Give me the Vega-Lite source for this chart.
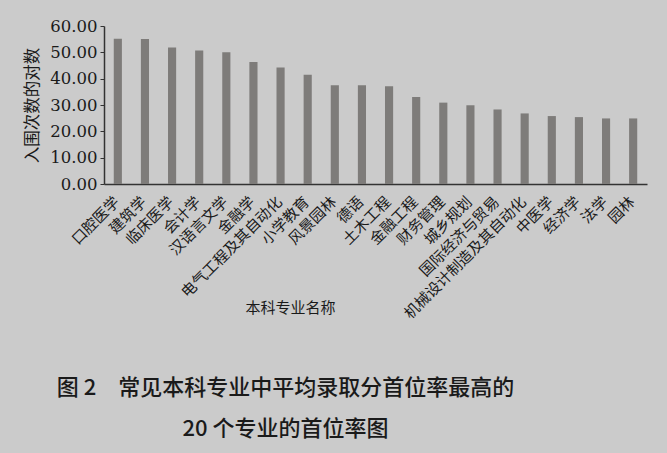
{
  "$schema": "https://vega.github.io/schema/vega-lite/v6.json",
  "width": 543,
  "height": 158,
  "autosize": "none",
  "padding": {"left": 104, "top": 26, "right": 20, "bottom": 269},
  "background": "#cbcbcb",
  "title": {
    "text": ["图 2　常见本科专业中平均录取分首位率最高的", "20 个专业的首位率图"],
    "orient": "bottom",
    "anchor": "middle",
    "dx": -90,
    "offset": 57,
    "font": "Noto Sans CJK SC",
    "fontSize": 22,
    "fontWeight": 500,
    "lineHeight": 41,
    "color": "#1a1a1a"
  },
  "data": {
    "values": [
      {"major": "口腔医学", "value": 55.2},
      {"major": "建筑学", "value": 55.1},
      {"major": "临床医学", "value": 51.8},
      {"major": "会计学", "value": 50.7},
      {"major": "汉语言文学", "value": 50.0},
      {"major": "金融学", "value": 46.3},
      {"major": "电气工程及其自动化", "value": 44.2},
      {"major": "小学教育", "value": 41.5},
      {"major": "风景园林", "value": 37.5},
      {"major": "德语", "value": 37.5},
      {"major": "土木工程", "value": 37.1},
      {"major": "金融工程", "value": 33.0},
      {"major": "财务管理", "value": 30.9},
      {"major": "城乡规划", "value": 29.9},
      {"major": "国际经济与贸易", "value": 28.3},
      {"major": "机械设计制造及其自动化", "value": 26.8},
      {"major": "中医学", "value": 25.8},
      {"major": "经济学", "value": 25.4},
      {"major": "法学", "value": 24.9},
      {"major": "园林", "value": 24.9}
    ]
  },
  "mark": {"type": "bar", "color": "#7e7c7a"},
  "encoding": {
    "x": {
      "field": "major",
      "type": "nominal",
      "sort": null,
      "scale": {"paddingInner": 0.7, "paddingOuter": 0.36},
      "axis": {
        "title": "本科专业名称",
        "titleFont": "Noto Sans CJK SC",
        "titleFontSize": 15,
        "titleFontWeight": "normal",
        "titleColor": "#1a1a1a",
        "titleX": 186,
        "titleY": 116,
        "titleAnchor": "middle",
        "titleAlign": "center",
        "labelAngle": -45,
        "labelFont": "Noto Sans CJK SC",
        "labelFontSize": 15,
        "labelColor": "#1a1a1a",
        "labelPadding": 10,
        "labelOffset": -6,
        "ticks": false,
        "domainColor": "#333333",
        "domainWidth": 1.5
      }
    },
    "y": {
      "field": "value",
      "type": "quantitative",
      "scale": {"domain": [0, 60]},
      "axis": {
        "title": "入围次数的对数",
        "titleFont": "Noto Sans CJK SC",
        "titleFontSize": 16.5,
        "titleFontWeight": "normal",
        "titleColor": "#1a1a1a",
        "titlePadding": 9,
        "values": [0, 10, 20, 30, 40, 50, 60],
        "format": ".2f",
        "labelFont": "DejaVu Serif",
        "labelFontSize": 16.5,
        "labelColor": "#1a1a1a",
        "labelPadding": 3,
        "tickSize": 4,
        "tickColor": "#333333",
        "domainColor": "#333333",
        "domainWidth": 1.5,
        "grid": false
      }
    }
  },
  "config": {"view": {"stroke": null}}
}
